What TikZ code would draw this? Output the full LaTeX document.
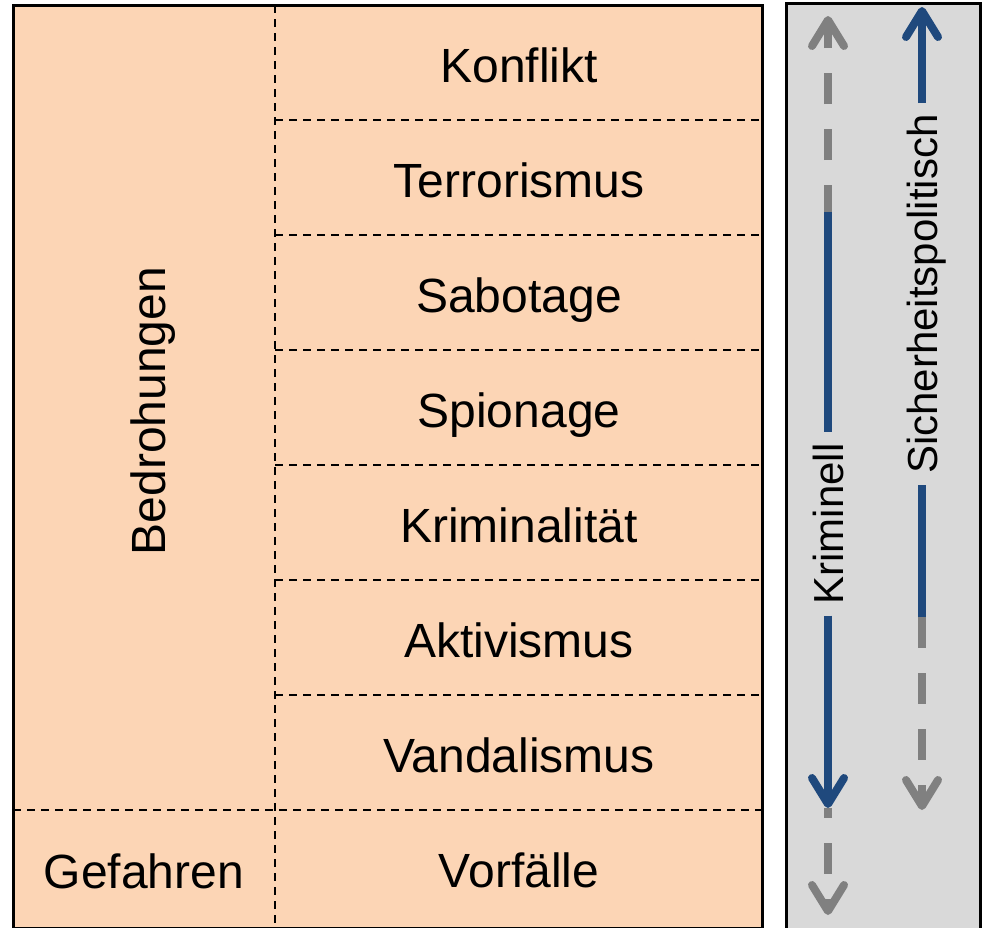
\documentclass[tikz,border=0pt]{standalone}
\usepackage{fontspec}
\setmainfont{Liberation Sans}
\usetikzlibrary{positioning,arrows.meta,calc}
\definecolor{peach}{HTML}{FCD5B5}
\definecolor{panelgray}{HTML}{D9D9D9}
\definecolor{darkblue}{HTML}{1F497D}
\definecolor{arrowgray}{HTML}{808080}

\begin{document}
\begin{tikzpicture}[
    x=1pt, y=-1pt,
    cell/.style={font=\fontsize{48}{58}\selectfont, anchor=base, inner sep=0pt},
    side/.style={font=\fontsize{42}{50}\selectfont, rotate=90, text height=30pt, text depth=0pt, inner xsep=11pt, inner ysep=0pt},
    frame/.style={draw=black, line width=3pt},
    divider/.style={line width=2.2pt, dash pattern=on 8pt off 6pt},
    bluearrow/.style={draw=darkblue, line width=8pt},
    grayarrow/.style={draw=arrowgray, line width=8pt, dash pattern=on 31pt off 25pt},
    >={Straight Barb[length=26pt,width=32pt,round]}
]
\useasboundingbox (0,0) rectangle (984,927);

% panels
\draw[frame, fill=peach] (13,5) rectangle (762,928);
\draw[frame, fill=panelgray] (786,3) rectangle (980,930);

% table lines
\draw[divider] (275,5) -- (275,928);
\foreach \i in {1,...,6}
    \draw[divider] (275,5+115*\i) -- (762,5+115*\i);
\draw[divider] (13,810) -- (762,810);

% cells
\foreach \name/\txt [count=\i from 0] in {konflikt/Konflikt, terrorismus/Terrorismus, sabotage/Sabotage, spionage/Spionage, kriminalitaet/Kriminalität, aktivismus/Aktivismus, vandalismus/Vandalismus}
    \node[cell] (\name) at (519,82+115*\i) {\txt};
\node[cell] (vorfaelle) at (519,887) {Vorfälle};
\node[cell] (gefahren) at (144,888) {Gefahren};
\node[cell, rotate=90] (bedrohungen) at (165,411) {Bedrohungen};

% side labels
\node[side] (kriminell) at (828,524) {Kriminell};
\node[side] (sicherheit) at (922,294) {Sicherheitspolitisch};

\coordinate (krimTop) at (828,16);
\coordinate (krimUp) at (828,212);
\coordinate (krimDown) at (828,808);
\coordinate (krimEnd) at (828,915);
\coordinate (sichTop) at (922,7);
\coordinate (sichDown) at (922,617);
\coordinate (sichEnd) at (922,810);

% dashed parts
\draw[grayarrow, dash phase=4pt, ->] (krimUp) -- (krimTop);
\draw[grayarrow, dash phase=21pt, ->] (krimDown) -- (krimEnd);
\draw[grayarrow, ->] (sichDown) -- (sichEnd);

% solid parts
\draw[bluearrow] (krimUp) -- (kriminell.east);
\draw[bluearrow, ->] (kriminell.west) -- (krimDown);
\draw[bluearrow, ->] (sicherheit.east) -- (sichTop);
\draw[bluearrow] (sichDown) -- (sicherheit.west);
\end{tikzpicture}
\end{document}
